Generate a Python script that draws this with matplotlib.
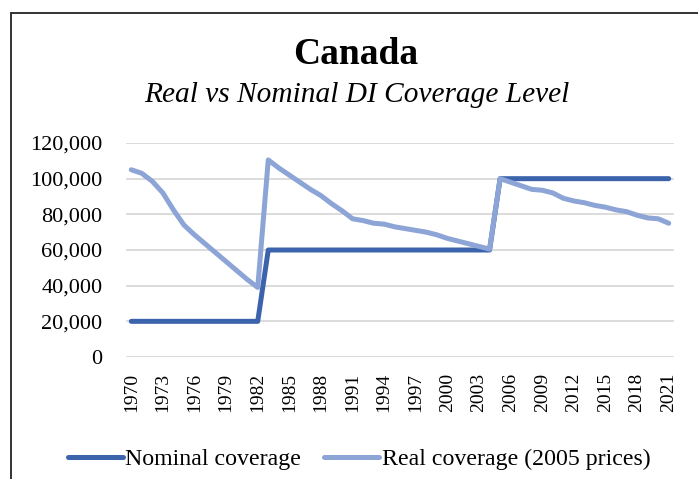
import matplotlib
matplotlib.use("Agg")
import matplotlib.pyplot as plt
from matplotlib.patches import Rectangle
from matplotlib.ticker import FuncFormatter

years = list(range(1970, 2022))
nominal = [20000] * 13 + [60000] * 22 + [100000] * 17
real = [105000, 103000, 98500, 92000, 82500, 74000, 68500, 63500, 58500, 53500,
        48500, 43500, 39000, 110500, 106000, 102000, 98000, 94000, 90500, 86000,
        82000, 77500, 76500, 75000, 74500, 73000, 72000, 71000, 70000, 68500,
        66500, 65000, 63500, 62000, 60500, 100000, 98000, 96000, 94000, 93500,
        92000, 89000, 87500, 86500, 85000, 84000, 82500, 81500, 79500, 78000,
        77500, 75000]
tick_years = list(range(1970, 2022, 3))
title = "Canada"
subtitle = "Real vs Nominal DI Coverage Level"
series_names = ["Nominal coverage", "Real coverage (2005 prices)"]

plt.rcParams['font.family'] = ['Liberation Serif', 'DejaVu Serif']

fig = plt.figure(figsize=(6.98, 4.79), dpi=100)
W, H = 698, 479
ax = fig.add_axes([126 / W, 1 - 357 / H, 548 / W, 214 / H])

ax.plot(years, nominal, color='#3C64AD', lw=3.6, solid_capstyle='round',
        solid_joinstyle='round', label=series_names[0])
ax.plot(years, real, color='#8DA4D6', lw=3.6, solid_capstyle='round',
        solid_joinstyle='round', label=series_names[1])

ax.set_xlim(1969.5, 2021.5)
ax.set_ylim(0, 120000)
ax.set_yticks(range(0, 120001, 20000))
ax.yaxis.set_major_formatter(FuncFormatter(lambda v, p: f"{int(v):,}"))
ax.set_xticks(tick_years)
ax.set_xticklabels([str(y) for y in tick_years], rotation=90)
ax.tick_params(axis='both', length=0, colors='black')
ax.tick_params(axis='y', labelsize=16, pad=17)
ax.tick_params(axis='x', labelsize=14, pad=11.5)
ax.grid(axis='y', color='#D9D9D9', lw=1.3)
ax.set_axisbelow(True)
for s in ax.spines.values():
    s.set_visible(False)

fig.text(356 / W, 1 - 55 / H, title, ha='center', va='center',
         fontsize=27, fontweight='bold')
fig.text(357 / W, 1 - 95 / H, subtitle, ha='center', va='center',
         fontsize=21.2, style='italic')

leg = fig.legend(loc='center', bbox_to_anchor=(359 / W, 1 - 459 / H), ncol=2,
                 frameon=False, fontsize=17.2, handlelength=2.3,
                 handletextpad=0.12, columnspacing=0.95)

fig.patches.append(Rectangle((11 / W, -0.2), 1.5, 1.2 - 13 / H,
                             transform=fig.transFigure, fill=False,
                             edgecolor='#222222', lw=1.3))
fig.savefig("out.png", dpi=100)
